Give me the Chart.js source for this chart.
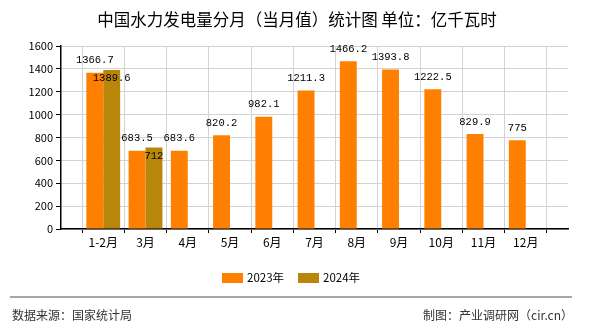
<!DOCTYPE html>
<html><head><meta charset="utf-8">
<script src="https://cdn.jsdelivr.net/npm/chart.js@4/dist/chart.umd.min.js"></script>
<style>html,body{margin:0;padding:0;background:#fff;}#wrap{width:590px;height:330px;}</style>
</head><body><div id="wrap"><canvas id="c" width="590" height="330"></canvas></div>
<script>
const categories = ['1-2月','3月','4月','5月','6月','7月','8月','9月','10月','11月','12月'];
const values2023 = [1366.7, 683.5, 683.6, 820.2, 982.1, 1211.3, 1466.2, 1393.8, 1222.5, 829.9, 775];
const values2024 = [1389.6, 712, null, null, null, null, null, null, null, null, null];
const seriesNames = ['2023年', '2024年'];
const yTicks = [0, 200, 400, 600, 800, 1000, 1200, 1400, 1600];
const titleText = '中国水力发电量分月（当月值）统计图 单位：亿千瓦时';
const sourceText = '数据来源：国家统计局';
const makerText = '制图：产业调研网（cir.cn）';

const labels = [''].concat(categories, ['']);
const d1 = [null].concat(values2023, [null]);
const d2 = [null].concat(values2024, [null]);
const colors = ['#FF8000', '#B8860B'];

const decor = {
  id: 'decor',
  afterDatasetsDraw(chart) {
    const ctx = chart.ctx;
    ctx.save();
    ctx.fillStyle = '#000';
    ctx.font = '10.5px "Liberation Mono", monospace';
    ctx.textAlign = 'center';
    chart.data.datasets.forEach((ds, di) => {
      const meta = chart.getDatasetMeta(di);
      meta.data.forEach((el, i) => {
        const v = ds.data[i];
        if (v === null || v === undefined) return;
        if (di === 0) { ctx.textBaseline = 'bottom'; ctx.fillText(String(v), el.x, el.y - 7); }
        else { ctx.textBaseline = 'top'; ctx.fillText(String(v), el.x, el.y + 3); }
      });
    });
    ctx.restore();
  },
  afterDraw(chart) {
    const ctx = chart.ctx;
    ctx.save();
    ctx.fillStyle = '#000';
    ctx.font = '16.5px "Noto Sans CJK SC"';
    ctx.textAlign = 'center';
    ctx.textBaseline = 'middle';
    ctx.fillText(titleText, 297, 20);
    ctx.font = '11.5px "Noto Sans CJK SC"';
    ctx.textAlign = 'left';
    const lx = [222, 298];
    chart.data.datasets.forEach((ds, i) => {
      ctx.fillStyle = ds.backgroundColor;
      ctx.fillRect(lx[i], 273, 21, 10);
      ctx.fillStyle = '#000';
      ctx.fillText(ds.label, lx[i] + 25, 278);
    });
    ctx.strokeStyle = '#888';
    ctx.lineWidth = 1.5;
    ctx.beginPath(); ctx.moveTo(10, 297); ctx.lineTo(572, 297); ctx.stroke();
    ctx.fillStyle = '#333';
    ctx.font = '12px "Noto Sans CJK SC"';
    ctx.textAlign = 'left';
    ctx.fillText(sourceText, 12, 315);
    ctx.textAlign = 'right';
    ctx.fillText(makerText, 573, 315);
    ctx.restore();
  }
};

new Chart(document.getElementById('c'), {
  type: 'bar',
  data: {
    labels: labels,
    datasets: [
      { label: seriesNames[0], data: d1, backgroundColor: colors[0], categoryPercentage: 0.8, barPercentage: 1.0 },
      { label: seriesNames[1], data: d2, backgroundColor: colors[1], categoryPercentage: 0.8, barPercentage: 1.0 }
    ]
  },
  options: {
    responsive: false,
    animation: false,
    devicePixelRatio: 1,
    layout: { padding: { left: 0, right: 22, top: 46, bottom: 71 } },
    plugins: { legend: { display: false }, title: { display: false }, tooltip: { enabled: false } },
    scales: {
      x: {
        offset: false,
        grid: { color: '#d3d3d3', tickColor: '#000', tickLength: 4, lineWidth: 1 },
        border: { color: '#000', width: 1.5 },
        ticks: { color: '#000', font: { family: '"Noto Sans CJK SC"', size: 12 }, padding: 2, maxRotation: 0, autoSkip: false },
        afterFit(s) { s.height = 30; }
      },
      y: {
        min: 0, max: 1600,
        afterBuildTicks(s) { s.ticks = yTicks.map(v => ({ value: v })); },
        grid: { color: '#d3d3d3', tickColor: '#000', tickLength: 5, lineWidth: 1 },
        border: { color: '#000', width: 1.5 },
        ticks: { color: '#000', font: { family: '"Noto Sans CJK SC"', size: 11 }, padding: 3, callback: (v) => String(v) },
        afterFit(s) { s.width = 61; }
      }
    }
  },
  plugins: [decor]
});
</script>
</body></html>
